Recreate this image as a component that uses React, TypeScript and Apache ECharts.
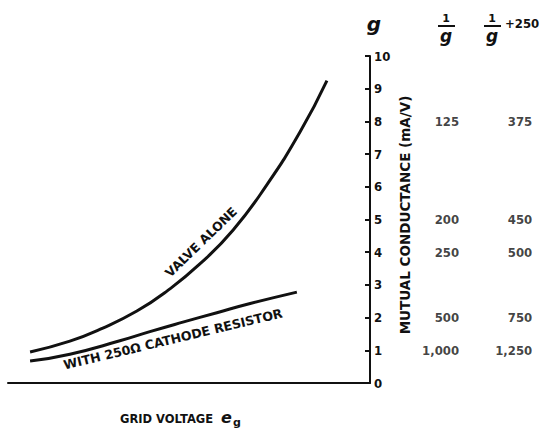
import React, { useEffect, useRef } from "react";
import * as echarts from "echarts";

// Grid voltage (arbitrary units, 0..100 along the axis) and mutual conductance (mA/V)
const valveX = [6.1, 17.1, 26.2, 35.6, 43.9, 53.0, 62.2, 71.5, 80.7, 88.1];
const valveG = [0.95, 1.28, 1.68, 2.2, 2.81, 3.64, 4.68, 6.06, 7.68, 9.25];
const cathodeX = [6.1, 17.1, 30.9, 39.2, 48.3, 57.7, 66.9, 79.8];
const cathodeG = [0.67, 0.88, 1.29, 1.57, 1.86, 2.15, 2.43, 2.78];

// Side table: g, 1/g, 1/g + 250
const tableG = [8, 5, 4, 2, 1];
const tableInvG = ["125", "200", "250", "500", "1,000"];
const tableInvGPlus = ["375", "450", "500", "750", "1,250"];

const FONT = "'DejaVu Sans', sans-serif";
const FONT_C = "'DejaVu Sans Condensed', 'DejaVu Sans', sans-serif";
const INK = "#111";

export default function App() {
  const ref = useRef<HTMLDivElement>(null);
  useEffect(() => {
    if (!ref.current) return;
    const chart = echarts.init(ref.current, undefined, { renderer: "svg" });
    const COL1 = 124.6;
    const COL2 = 144.8;
    const lineStyle = { color: INK, width: 3 };
    const tableLabel = {
      show: true,
      position: "left",
      distance: 0,
      formatter: (p: any) => p.name,
      color: INK,
      fontFamily: FONT_C,
      fontWeight: "bold",
      fontSize: 13,
    };
    chart.setOption({
      animation: false,
      backgroundColor: "#fff",
      grid: { left: 8, right: 174, top: 56, bottom: 45 },
      xAxis: {
        type: "value",
        min: 0,
        max: 100,
        axisLine: { show: true, onZero: false, lineStyle: { color: INK, width: 2 } },
        axisTick: { show: false },
        axisLabel: { show: false },
        splitLine: { show: false },
      },
      yAxis: {
        type: "value",
        position: "right",
        min: 0,
        max: 10,
        interval: 1,
        axisLine: { show: true, onZero: false, lineStyle: { color: INK, width: 2 } },
        axisTick: { show: true, inside: true, length: 5, lineStyle: { color: INK, width: 2 } },
        axisLabel: { margin: 4, color: INK, fontFamily: FONT_C, fontWeight: "bold", fontSize: 13 },
        splitLine: { show: false },
      },
      series: [
        {
          type: "line",
          smooth: true,
          showSymbol: false,
          data: valveX.map((x, i) => [x, valveG[i]]),
          lineStyle,
        },
        {
          type: "line",
          smooth: true,
          showSymbol: false,
          data: cathodeX.map((x, i) => [x, cathodeG[i]]),
          lineStyle,
        },
        {
          type: "scatter",
          clip: false,
          symbolSize: 0,
          data: tableG.map((g, i) => ({ value: [COL1, g], name: tableInvG[i] })),
          label: tableLabel,
        },
        {
          type: "scatter",
          clip: false,
          symbolSize: 0,
          data: tableG.map((g, i) => ({ value: [COL2, g], name: tableInvGPlus[i] })),
          label: tableLabel,
        },
      ],
      graphic: [
        {
          type: "text",
          x: 405,
          y: 215,
          rotation: Math.PI / 2,
          style: {
            text: "MUTUAL CONDUCTANCE (mA/V)",
            fill: INK,
            font: `bold 13.5px ${FONT}`,
            textAlign: "center",
            textVerticalAlign: "middle",
          },
        },
        {
          type: "text",
          x: 201,
          y: 242,
          rotation: (44 * Math.PI) / 180,
          style: {
            text: "VALVE ALONE",
            fill: INK,
            font: `bold 12.5px ${FONT}`,
            textAlign: "center",
            textVerticalAlign: "middle",
          },
        },
        {
          type: "text",
          x: 173,
          y: 339,
          rotation: (13.5 * Math.PI) / 180,
          style: {
            text: "WITH 250Ω CATHODE RESISTOR",
            fill: INK,
            font: `bold 12.6px ${FONT}`,
            textAlign: "center",
            textVerticalAlign: "middle",
          },
        },
        {
          type: "text",
          x: 120,
          y: 419,
          style: {
            text: "GRID VOLTAGE",
            fill: INK,
            font: `bold 11.5px ${FONT}`,
            textAlign: "left",
            textVerticalAlign: "middle",
          },
        },
        {
          type: "text",
          x: 221,
          y: 417,
          style: {
            text: "e",
            fill: INK,
            font: `italic bold 16px ${FONT}`,
            textAlign: "left",
            textVerticalAlign: "middle",
          },
        },
        {
          type: "text",
          x: 233,
          y: 422,
          style: {
            text: "g",
            fill: INK,
            font: `bold 11px ${FONT}`,
            textAlign: "left",
            textVerticalAlign: "middle",
          },
        },
        // Column headers
        {
          type: "text",
          x: 374,
          y: 24,
          style: {
            text: "g",
            fill: INK,
            font: `italic bold 20px ${FONT}`,
            textAlign: "center",
            textVerticalAlign: "middle",
          },
        },
        {
          type: "text",
          x: 446,
          y: 18,
          style: { text: "1", fill: INK, font: `bold 11px ${FONT}`, textAlign: "center", textVerticalAlign: "middle" },
        },
        {
          type: "line",
          shape: { x1: 438, y1: 26, x2: 455, y2: 26 },
          style: { stroke: INK, lineWidth: 2 },
        },
        {
          type: "text",
          x: 446,
          y: 35.5,
          style: { text: "g", fill: INK, font: `italic bold 17px ${FONT}`, textAlign: "center", textVerticalAlign: "middle" },
        },
        {
          type: "text",
          x: 492,
          y: 18,
          style: { text: "1", fill: INK, font: `bold 11px ${FONT}`, textAlign: "center", textVerticalAlign: "middle" },
        },
        {
          type: "line",
          shape: { x1: 484, y1: 26, x2: 501, y2: 26 },
          style: { stroke: INK, lineWidth: 2 },
        },
        {
          type: "text",
          x: 492,
          y: 35.5,
          style: { text: "g", fill: INK, font: `italic bold 17px ${FONT}`, textAlign: "center", textVerticalAlign: "middle" },
        },
        {
          type: "text",
          x: 505,
          y: 23,
          style: { text: "+250", fill: INK, font: `bold 13px ${FONT_C}`, textAlign: "left", textVerticalAlign: "middle" },
        },
      ],
    });
    return () => chart.dispose();
  }, []);
  return (
    <div
      ref={ref}
      style={{ position: "fixed", left: 0, top: 0, width: 544, height: 428, background: "#fff" }}
    />
  );
}
